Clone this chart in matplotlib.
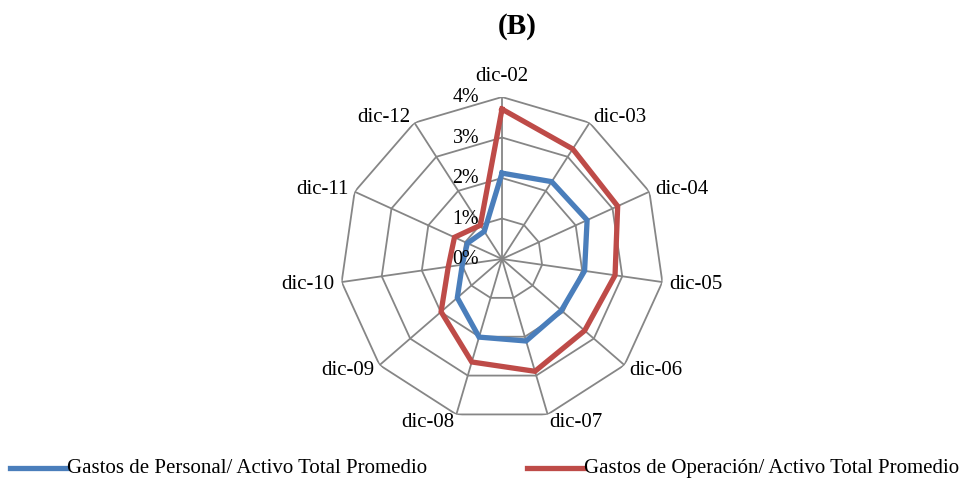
import numpy as np
import matplotlib
matplotlib.use("Agg")
import matplotlib.pyplot as plt
from matplotlib.lines import Line2D

plt.rcParams['font.family'] = ['Liberation Serif', 'DejaVu Serif']

# Datos del grafico (B)
categorias = ['dic-02', 'dic-03', 'dic-04', 'dic-05', 'dic-06', 'dic-07',
              'dic-08', 'dic-09', 'dic-10', 'dic-11', 'dic-12']
gastos_personal = [2.12, 2.27, 2.31, 2.06, 1.94, 2.11, 2.01, 1.46, 0.99, 0.94, 0.81]
gastos_operacion = [3.70, 3.23, 3.14, 2.82, 2.70, 2.89, 2.65, 1.99, 1.34, 1.29, 0.99]
niveles = [0, 1, 2, 3, 4]
etiquetas_niveles = ['0%', '1%', '2%', '3%', '4%']
nombre_personal = 'Gastos de Personal/ Activo Total Promedio'
nombre_operacion = 'Gastos de Operación/ Activo Total Promedio'

color_personal = '#4A7EBB'
color_operacion = '#BE4B48'
color_rejilla = '#868686'

n = len(categorias)
angulos = np.linspace(0, 2 * np.pi, n, endpoint=False)
angulos_cerrados = np.append(angulos, angulos[0])


def cerrar(valores):
    return np.append(valores, valores[0])


fig = plt.figure(figsize=(9.74, 4.81), dpi=100)
ax = fig.add_axes([340 / 974, 59 / 481, 324 / 974, 324 / 481], projection='polar')
ax.set_theta_zero_location('N')
ax.set_theta_direction(-1)
ax.set_ylim(0, 4)
ax.grid(False)
ax.spines['polar'].set_visible(False)
ax.set_xticks([])
ax.set_yticks([])
ax.patch.set_visible(False)

# rejilla poligonal
for nivel in niveles[1:]:
    ax.plot(angulos_cerrados, [nivel] * (n + 1), color=color_rejilla, lw=1.3, zorder=1)
for a in angulos:
    ax.plot([a, a], [0, 4], color=color_rejilla, lw=1.3, zorder=1)

# series
ax.plot(angulos_cerrados, cerrar(gastos_personal), color=color_personal, lw=3.8,
        solid_joinstyle='miter', zorder=3)
ax.plot(angulos_cerrados, cerrar(gastos_operacion), color=color_operacion, lw=3.8,
        solid_joinstyle='miter', zorder=3)

# etiquetas de porcentaje sobre el primer eje
for nivel, texto in zip(niveles, etiquetas_niveles):
    ax.annotate(texto, xy=(0, nivel), xytext=(-23, 0), textcoords='offset pixels',
                ha='right', va='center', fontsize=14.4, zorder=4)

# etiquetas de categorias
for a, texto in zip(angulos, categorias):
    s, c = np.sin(a), np.cos(a)
    if abs(s) < 0.05:
        ha = 'center'
    elif s > 0:
        ha = 'left'
    else:
        ha = 'right'
    dx, dy = 7 * s, 7 * c
    if c > 0.95:
        dy = 21
    ax.annotate(texto, xy=(a, 4), xytext=(dx, dy), textcoords='offset pixels',
                ha=ha, va='center', fontsize=15)

fig.text(517 / 974, 1 - 27 / 481, '(B)', ha='center', va='center',
         fontsize=21, fontweight='bold')

# leyenda
y_ley = 1 - 469 / 481
fig.add_artist(Line2D([10 / 974, 67 / 974], [y_ley, y_ley], color=color_personal, lw=3.8))
fig.text(67 / 974, y_ley, nombre_personal, ha='left', va='center', fontsize=15)
fig.add_artist(Line2D([527 / 974, 584 / 974], [y_ley, y_ley], color=color_operacion, lw=3.8))
fig.text(584 / 974, y_ley, nombre_operacion, ha='left', va='center', fontsize=15)

fig.savefig('out.png', dpi=100)
